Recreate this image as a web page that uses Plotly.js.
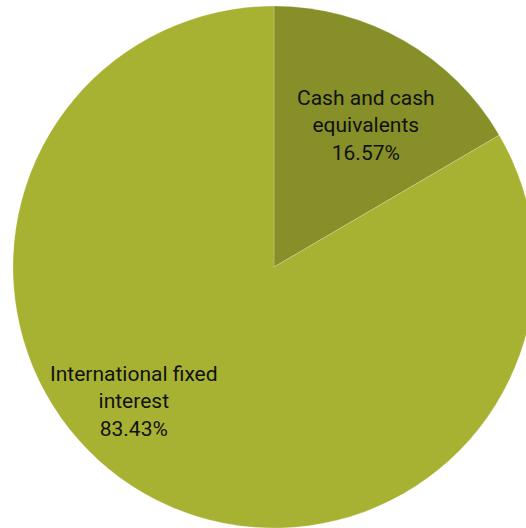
<!DOCTYPE html>
<html>
<head>
<meta charset="utf-8">
<script src="https://cdn.plot.ly/plotly-3.0.1.min.js"></script>
<style>
html, body { margin:0; padding:0; overflow:hidden; background:#fff; }
#chart { width:535px; height:528px; }
</style>
</head>
<body>
<div id="chart"></div>
<script>
const categories = ["Cash and cash equivalents", "International fixed interest"];
const displayLabels = ["Cash and cash<br>equivalents", "International fixed<br>interest"];
const values = [16.57, 83.43];
const colors = ["#868f28", "#a8b232"];

// label anchor positions in paper coordinates (layout only)
const labelX = [0.676, 0.232];
const labelY = [0.772, 0.243];

const annotations = categories.map((c, i) => ({
  xref: "paper", yref: "paper",
  x: labelX[i], y: labelY[i],
  xanchor: "center", yanchor: "middle",
  showarrow: false,
  align: "center",
  text: displayLabels[i] + "<br>" + values[i].toFixed(2) + "%",
  font: { family: "Roboto, sans-serif", size: 21, color: "#111" }
}));

Plotly.newPlot("chart", [{
  type: "pie",
  labels: categories,
  values: values,
  sort: false,
  direction: "clockwise",
  rotation: 0,
  marker: { colors: colors, line: { color: "rgba(255,255,255,0.4)", width: 0.5 } },
  textinfo: "none",
  hoverinfo: "none"
}], {
  width: 535, height: 528,
  margin: { l: 13, r: 0, t: 6, b: 0 },
  showlegend: false,
  paper_bgcolor: "#fff",
  annotations: annotations
}, { staticPlot: true });
</script>
</body>
</html>
